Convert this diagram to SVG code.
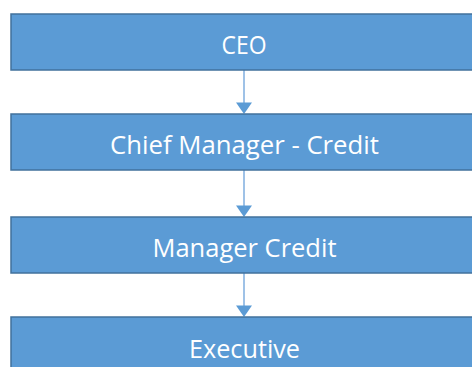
<svg xmlns="http://www.w3.org/2000/svg" width="472" height="367" viewBox="0 0 472 367">
  <style>
    .box { fill: #5B9BD5; stroke: #41719C; stroke-width: 1.5; }
    .label { fill: #FFFFFF; font-family: "Open Sans", "Noto Sans", "Liberation Sans", sans-serif; font-size: 25px; text-anchor: middle; }
    .link { stroke: #7FAEDF; stroke-width: 1.5; fill: none; }
    .head { fill: #5B9BD5; }
  </style>
  <rect width="472" height="367" fill="#FFFFFF"/>
  <g id="connectors">
    <line class="link" x1="244" y1="70" x2="244" y2="103"/>
    <polygon class="head" points="236,102.5 252,102.5 244,114"/>
    <line class="link" x1="244" y1="170" x2="244" y2="206"/>
    <polygon class="head" points="236,205.5 252,205.5 244,217"/>
    <line class="link" x1="244" y1="273" x2="244" y2="306"/>
    <polygon class="head" points="236,305.5 252,305.5 244,317"/>
  </g>
  <g id="ceo">
    <rect class="box" x="11" y="14" width="470" height="56"/>
    <text class="label" x="244" y="53.5" textLength="45" lengthAdjust="spacingAndGlyphs">CEO</text>
  </g>
  <g id="chief-manager-credit">
    <rect class="box" x="11" y="114" width="470" height="56"/>
    <text class="label" x="244.5" y="153.5" textLength="269" lengthAdjust="spacingAndGlyphs">Chief Manager - Credit</text>
  </g>
  <g id="manager-credit">
    <rect class="box" x="11" y="217" width="470" height="56"/>
    <text class="label" x="244.5" y="256.5" textLength="184" lengthAdjust="spacingAndGlyphs">Manager Credit</text>
  </g>
  <g id="executive">
    <rect class="box" x="11" y="317" width="470" height="60"/>
    <text class="label" x="244.5" y="358" textLength="111" lengthAdjust="spacingAndGlyphs">Executive</text>
  </g>
</svg>
